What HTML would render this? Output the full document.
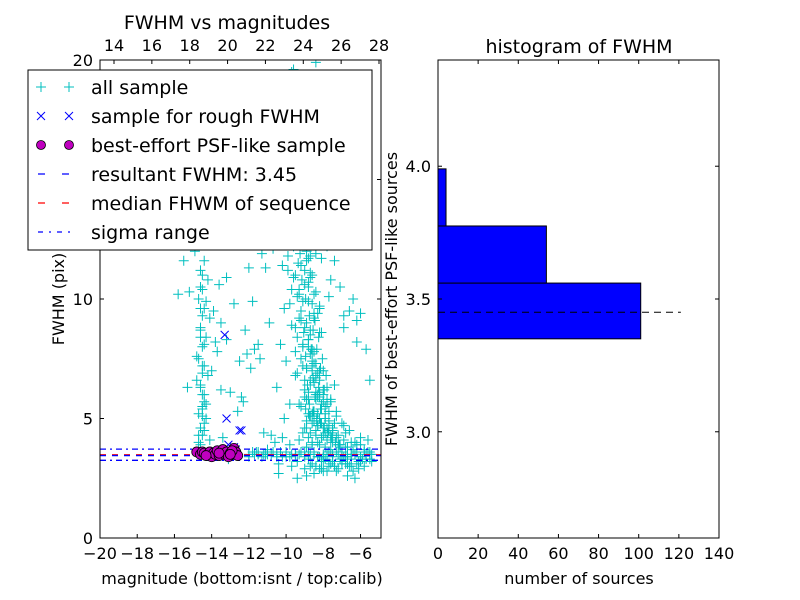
<!DOCTYPE html>
<html><head><meta charset="utf-8">
<style>
body{margin:0;background:#fff;}
svg{display:block;font-family:"DejaVu Sans","Liberation Sans",sans-serif;}
</style></head>
<body>
<svg id="c" width="800" height="600" viewBox="0 0 800 600" xmlns="http://www.w3.org/2000/svg"></svg>
<script>
// ---- data ----
const allMag = [
-14.6,-14.5,-14.4,-14.7,-14.3,-14.5,-14.6,-14.2,-14.4,-14.8,-14.5,-14.3,-14.6,-14.1,-14.4,-14.7,-14.5,-14.2,-14.6,-14.4,-14.3,-14.5,-14.8,-14.0,-13.8,-13.9,-13.6,-14.1,-13.5,-13.7,-14.9,-15.2,-15.5,-13.2,-12.8,-12.5,-13.0,-12.2,-11.8,-12.6,-13.4,-12.0,-11.5,-11.2,-11.7,-12.3,-10.9,-11.0,-11.3,-13.1,
-10.5,-10.3,-10.1,-10.0,-9.9,-9.8,-9.7,-9.6,-9.5,-9.4,-9.3,-9.2,-9.1,-9.0,-8.9,-8.8,-8.7,-8.6,-8.5,-8.4,-8.3,-8.2,-8.1,-8.0,-7.9,-7.8,-7.7,-7.6,-7.5,-7.3,
-9.8,-9.6,-9.4,-9.2,-9.0,-8.8,-8.6,-8.4,-8.2,-8.0,-9.7,-9.5,-9.3,-9.1,-8.9,-8.7,-8.5,-8.3,-8.1,-7.9,-9.9,-9.6,-9.2,-8.8,-8.5,-8.2,-7.8,-7.5,-7.2,-7.0,
-9.5,-9.3,-9.0,-8.8,-8.6,-8.4,-8.9,-8.7,-8.5,-8.3,-9.1,-8.8,-8.6,-8.4,-8.2,-8.0,-7.8,-7.6,-7.4,-7.1,-6.8,-6.5,-6.2,-6.0,-5.8,-5.6,-7.3,-6.9,-6.6,-6.3,
-10.8,-10.6,-10.2,-9.8,-9.3,-8.9,-8.6,-8.3,-7.9,-7.6,-7.2,-6.8,-6.4,-6.0,-5.6,-10.4,-9.7,-9.0,-8.1,-7.4,-6.7,-6.1,-5.5,-9.4,-8.7,-8.0,-7.0,-6.5,-5.9,-5.4,
-11.5,-11.0,-10.5,-10.0,-9.5,-9.0,-8.5,-8.0,-7.5,-7.0,-6.5,-6.0,-5.5,-11.8,-11.3,-10.8,-10.3,-9.8,-9.3,-8.8,-8.3,-7.8,-7.3,-6.8,-6.3,-5.8,-5.4,-12.0,-11.6,-11.1,
-10.2,-9.6,-9.1,-8.6,-8.1,-7.7,-10.0,-9.4,-8.9,-8.4,-7.8,-7.1,-10.6,-9.9,-9.2,-8.7,-8.2,-7.6,-6.9,-6.2,-11.2,-10.7,-9.5,-8.5,-7.4,-6.6,-5.7,-9.7,-9.0,-8.3,
-15.8,-15.3,-14.9,-13.2,-12.4,-11.9,-10.7,-9.8,-9.1,-8.4,-7.7,-6.9,-6.2,-5.5,-11.4,-10.1,-12.9,-8.6,-7.2,-6.0,-14.2,-12.1,-10.4,-9.4,-8.0,-6.4,-13.5,-11.1,-9.7,-7.9,
-12.0,-11.5,-11.0,-10.5,-10.0,-9.5,-9.0,-8.5,-8.0,-7.5,-7.0,-6.5,-6.0,-5.5,-11.7,-11.2,-10.7,-10.2,-9.7,-9.2,-8.7,-8.2,-7.7,-7.2,-6.7,-6.2,-5.7,-8.9,-9.4,-10.4,
-9.2,-9.0,-8.9,-8.8,-8.7,-8.6,-8.5,-8.4,-8.3,-8.1,-9.1,-8.95,-8.85,-8.75,-8.65,-8.55,-8.45,-8.35,-8.25,-8.15,-9.3,-9.05,-8.8,-8.6,-8.4,-8.2,-8.0,-7.9,-7.7,-7.5,
-9.4,-9.2,-9.0,-8.8,-8.7,-8.6,-8.5,-8.3,-8.1,-7.9,-9.5,-9.3,-9.1,-8.9,-8.7,-8.5,-8.4,-8.2,-8.0,-7.8,-9.6,-9.35,-9.15,-8.95,-8.75,-8.55,-8.35,-8.15,-7.95,-7.7,
-9.7,-9.5,-9.25,-9.0,-8.8,-8.6,-8.45,-8.25,-8.05,-7.85,-9.8,-9.55,-9.3,-9.1,-8.9,-8.7,-8.5,-8.3,-8.1,-7.6,-9.9,-9.6,-9.4,-9.2,-9.0,-8.8,-8.6,-8.4,-8.2,-7.4,
-9.0,-8.9,-8.8,-8.7,-8.6,-8.5,-8.4,-8.3,-8.2,-8.1,-8.0,-7.9,-7.8,-7.7,-7.6,-7.5,-7.3,-7.1,-6.9,-6.7,-8.95,-8.75,-8.55,-8.35,-8.15,-7.95,-7.75,-7.55,-7.35,-7.15,
-8.8,-8.6,-8.4,-8.2,-8.0,-7.8,-7.6,-7.4,-7.2,-7.0,-6.8,-6.6,-6.4,-6.2,-6.0,-5.8,-8.5,-8.1,-7.7,-7.3,-6.9,-6.5,-6.1,-5.7,-8.3,-7.9,-7.5,-7.1,-6.7,-6.3,
-9.6,-9.4,-9.8,-9.5,-9.3,-9.7,-9.4,-9.6,-9.2,-9.5,-10.0,-9.9,-9.3,-9.1,-8.9,-10.2,-9.0,-8.7,-9.6,-9.4,
-14.7,-14.6,-14.5,-14.4,-14.6,-14.5,-14.7,-14.4,-14.6,-14.5,-14.3,-14.6,-14.5,-14.4,-14.7,-14.5,-14.6,-14.4,-14.5,-14.6
];
const allFwhm = [
3.9,4.3,4.8,5.2,5.6,6.0,6.4,6.8,7.2,7.6,8.0,8.4,8.8,9.2,9.6,10.0,10.4,10.8,11.2,4.5,5.0,5.5,6.6,7.0,8.2,9.5,10.6,4.1,6.2,7.8,12.0,10.3,11.6,10.9,9.8,7.4,6.1,8.7,9.9,5.3,4.2,11.3,8.1,4.4,7.9,5.7,9.0,3.7,11.9,3.3,
6.3,8.1,9.6,7.4,11.2,5.6,10.4,12.5,8.8,6.9,13.8,9.1,7.2,10.6,5.8,8.3,6.4,7.7,9.4,6.1,5.2,8.6,4.8,7.0,5.5,6.3,4.9,5.7,4.4,5.1,
9.8,10.9,8.4,7.5,6.6,9.9,7.9,6.7,5.9,6.2,8.9,7.8,10.2,8.0,7.1,8.7,7.3,6.0,5.4,5.0,11.8,12.8,11.4,10.7,9.2,7.0,5.8,4.6,4.3,4.8,
6.8,5.6,5.9,6.1,5.2,5.8,4.6,5.1,4.9,4.7,4.4,4.2,4.0,4.5,3.9,4.3,4.6,4.1,4.8,3.8,4.4,4.0,3.9,4.2,3.7,4.1,5.3,4.7,4.5,4.0,
4.3,4.0,4.2,3.9,4.1,3.8,3.9,4.0,3.8,3.7,3.9,3.8,3.7,3.9,3.6,3.1,3.0,2.9,3.2,3.0,3.1,2.9,3.3,3.2,3.0,2.8,3.1,3.0,3.3,3.2,
3.5,3.6,3.5,3.4,3.5,3.6,3.5,3.4,3.5,3.6,3.5,3.4,3.5,3.6,3.4,3.5,3.6,3.4,3.5,3.6,3.4,3.5,3.6,3.4,3.5,3.6,3.5,3.4,3.6,3.5,
14.2,13.5,12.9,15.1,11.7,10.1,16.3,14.8,13.1,11.9,12.2,10.5,15.7,13.9,12.6,11.1,9.7,10.8,9.3,8.2,13.3,12.1,17.2,14.5,11.6,9.5,7.9,16.8,15.6,18.4,
10.2,6.3,12.3,8.3,5.9,7.1,12.8,19.2,17.6,19.9,18.9,8.8,9.1,6.6,7.5,5.0,13.4,15.4,16.1,9.4,12.6,7.7,15.2,14.0,14.3,10.0,9.0,11.3,19.5,16.0,
3.5,3.6,3.5,3.4,3.6,3.5,3.4,3.6,3.5,3.4,3.6,3.5,3.4,3.6,3.5,3.5,3.6,3.4,3.5,3.6,3.5,3.4,3.6,3.5,3.4,3.6,3.5,2.6,2.5,2.7,
5.5,6.2,7.1,5.8,6.6,7.4,5.3,6.0,6.9,5.6,8.1,7.6,6.4,5.1,7.9,6.7,5.9,4.9,6.3,5.4,9.2,8.6,8.0,7.2,6.8,6.1,5.7,5.0,4.7,4.5,
10.1,9.5,8.8,8.3,7.7,7.0,6.5,5.9,5.4,5.2,11.0,10.4,9.9,9.0,8.5,7.8,7.3,6.6,6.0,5.6,12.2,11.5,10.8,10.0,9.3,8.7,7.9,7.1,6.2,5.3,
13.0,12.6,11.9,11.2,10.5,9.8,9.1,8.4,7.5,6.8,14.0,13.4,12.9,12.3,11.6,10.9,10.2,9.4,8.6,5.8,15.1,14.4,13.7,13.1,12.4,11.7,11.0,10.3,9.6,6.4,
4.6,4.9,5.2,4.4,4.8,5.1,4.3,4.7,5.0,4.2,4.6,4.4,4.1,4.5,4.3,4.0,4.2,3.9,4.1,3.8,5.4,5.6,5.3,5.0,4.8,4.6,4.4,4.2,4.0,3.9,
3.3,3.1,3.0,2.9,3.2,2.8,3.1,3.0,2.9,3.2,3.1,3.0,2.8,3.1,3.2,3.0,2.7,2.9,3.0,2.8,3.4,3.3,3.2,3.3,3.4,3.3,3.2,3.3,2.6,2.5,
16.5,17.4,18.2,19.1,15.8,14.6,16.9,18.7,13.8,15.3,13.2,12.7,14.9,13.6,12.0,11.4,16.1,11.8,19.6,17.9,
4.0,4.6,5.1,5.7,6.3,6.9,7.5,8.1,8.7,9.3,9.9,10.5,11.0,11.6,4.3,7.2,8.4,6.0,5.4,9.6
];
const roughMag = [-13.3,-13.2,-12.4,-12.5,-13.1,-12.8,-13.5,-12.7];
const roughFwhm = [8.5,5.0,4.5,4.5,3.9,3.8,3.7,3.7];
const bestMag = [-14.8,-14.6,-14.5,-14.4,-14.2,-14.1,-14.0,-13.9,-13.8,-13.7,-13.6,-13.5,-13.4,-13.3,-13.2,-13.1,-13.0,-12.9,-12.8,-12.7,-12.6,-12.9,-13.6,-14.3,-13.0];
const bestFwhm = [3.6,3.5,3.6,3.55,3.5,3.6,3.4,3.55,3.5,3.65,3.45,3.6,3.7,3.5,3.6,3.4,3.55,3.5,3.75,3.6,3.45,3.65,3.55,3.45,3.5];
const resultFwhm = 3.45;
const medianFwhm = 3.48;
const sigmaLow = 3.25;
const sigmaHigh = 3.72;
const histEdges = [3.35, 3.56, 3.775, 3.99];
const histCounts = [101, 54, 4];
const xTicksBottom = [-20,-18,-16,-14,-12,-10,-8,-6];
const xTicksTop = [14,16,18,20,22,24,26,28];
const yTicksLeft = [0,5,10,15,20];
const xTicksHist = [0,20,40,60,80,100,120,140];
const yTicksHist = [3.0,3.5,4.0];

// ---- axes ----
const L={x0:100,x1:381,y0:60,y1:538};
const R={x0:438,x1:719,y0:60,y1:538};
const sx=m=>L.x0+(m+20)/(15.1)*(L.x1-L.x0);
const stop=v=>114+(v-14)*(379-114)/14;
const sy=v=>L.y1-v/20*(L.y1-L.y0);
const hx=v=>R.x0+v/140*(R.x1-R.x0);
const hy=v=>R.y1-(v-2.6)/1.8*(R.y1-R.y0);

const svg=document.getElementById('c');
const NS='http://www.w3.org/2000/svg';
function mk(tag,attrs,parent){const e=document.createElementNS(NS,tag);for(const k in attrs)e.setAttribute(k,attrs[k]);(parent||svg).appendChild(e);return e;}
function txt(s,x,y,size,anchor,parent,extra){const t=mk('text',Object.assign({x:x,y:y,'font-size':size,'text-anchor':anchor||'middle',fill:'#000'},extra||{}),parent);t.textContent=s;return t;}

const defs=mk('defs',{});
const cp=mk('clipPath',{id:'clipL'},defs);
mk('rect',{x:L.x0,y:L.y0,width:L.x1-L.x0,height:L.y1-L.y0},cp);

const gL=mk('g',{'clip-path':'url(#clipL)'});


const gAll=mk('g',{stroke:'#00bfbf','stroke-width':1},gL);


for(let i=0;i<allMag.length;i++){
  const x=sx(allMag[i]),y=sy(allFwhm[i]);
  const p=mk('path',{d:`M${x-5},${y}H${x+5}M${x},${y-5}V${y+5}`},gAll);
  
  
}
function hline(v,color,dash,name){
  const l=mk('line',{x1:L.x0,x2:L.x1,y1:sy(v),y2:sy(v),stroke:color,'stroke-width':1.3,'stroke-dasharray':dash},gL);
  
  
}
hline(sigmaLow,'#0000ff','6 4 2 4','sigma-low-line');
hline(sigmaHigh,'#0000ff','6 4 2 4','sigma-high-line');
hline(medianFwhm,'#ff0000','6 6','median-fwhm-line');
hline(resultFwhm,'#0000ff','6 6','resultant-fwhm-line');
const gRough=mk('g',{stroke:'#0000ff','stroke-width':1},gL);


for(let i=0;i<roughMag.length;i++){
  const x=sx(roughMag[i]),y=sy(roughFwhm[i]);
  const p=mk('path',{d:`M${x-4},${y-4}L${x+4},${y+4}M${x-4},${y+4}L${x+4},${y-4}`},gRough);
  
  
}
const gBest=mk('g',{fill:'#bf00bf',stroke:'#000','stroke-width':0.8},gL);


for(let i=0;i<bestMag.length;i++){
  const c=mk('circle',{cx:sx(bestMag[i]),cy:sy(bestFwhm[i]),r:5},gBest);
  
  
}
const fl=mk('rect',{x:L.x0,y:L.y0,width:L.x1-L.x0,height:L.y1-L.y0,fill:'none',stroke:'#000','stroke-width':1});


const gxt=mk('g',{});


xTicksBottom.forEach(v=>{const x=sx(v);mk('line',{x1:x,x2:x,y1:L.y1,y2:L.y1-4,stroke:'#000'},gxt);txt(String(v).replace('-','\u2212'),x,L.y1+21,16,'middle',gxt);});
const gtt=mk('g',{});


xTicksTop.forEach(v=>{const x=stop(v);mk('line',{x1:x,x2:x,y1:L.y0,y2:L.y0+4,stroke:'#000'},gtt);txt(String(v),x,L.y0-9,16,'middle',gtt);});
const gyt=mk('g',{});


yTicksLeft.forEach(v=>{const y=sy(v);mk('line',{x1:L.x0,x2:L.x0+4,y1:y,y2:y,stroke:'#000'},gyt);mk('line',{x1:L.x1,x2:L.x1-4,y1:y,y2:y,stroke:'#000'},gyt);txt(String(v),L.x0-7,y+6,16,'end',gyt);});
txt('FWHM vs magnitudes',227,29,19,'middle');
txt('magnitude (bottom:isnt / top:calib)',242,584,16,'middle');
txt('FWHM (pix)',0,0,16,'middle',null,{transform:'translate(64,299) rotate(-90)'});

const lg=mk('g',{});


mk('rect',{x:28,y:70,width:344,height:180,fill:'#fff',stroke:'#000','stroke-width':1},lg);
const entries=['all sample','sample for rough FWHM','best-effort PSF-like sample','resultant FWHM: 3.45','median FHWM of sequence','sigma range'];
entries.forEach((s,i)=>{
  const y=87+i*29;
  const e=mk('g',{},lg);
  
  
  if(i==0){[41,69].forEach(x=>mk('path',{d:`M${x-5},${y}H${x+5}M${x},${y-5}V${y+5}`,stroke:'#00bfbf'},e));}
  if(i==1){[41,69].forEach(x=>mk('path',{d:`M${x-4},${y-4}L${x+4},${y+4}M${x-4},${y+4}L${x+4},${y-4}`,stroke:'#0000ff'},e));}
  if(i==2){[41,69].forEach(x=>mk('circle',{cx:x,cy:y,r:4.5,fill:'#bf00bf',stroke:'#000','stroke-width':0.8},e));}
  if(i==3)mk('line',{x1:38,x2:74,y1:y,y2:y,stroke:'#0000ff','stroke-width':1.3,'stroke-dasharray':'7 17'},e);
  if(i==4)mk('line',{x1:38,x2:74,y1:y,y2:y,stroke:'#ff0000','stroke-width':1.3,'stroke-dasharray':'7 17'},e);
  if(i==5)mk('line',{x1:38,x2:74,y1:y,y2:y,stroke:'#0000ff','stroke-width':1.3,'stroke-dasharray':'5 6 2 6'},e);
  txt(s,91,y+7,19,'start',e);
});

const gH=mk('g',{});


for(let i=0;i<histCounts.length;i++){
  const yt=hy(histEdges[i+1]),yb=hy(histEdges[i]);
  const b=mk('rect',{x:R.x0,y:yt,width:hx(histCounts[i])-R.x0,height:yb-yt,fill:'#0000ff',stroke:'#000','stroke-width':1},gH);
  
  
}
const dl=mk('line',{x1:R.x0,x2:hx(121),y1:hy(resultFwhm),y2:hy(resultFwhm),stroke:'#000','stroke-dasharray':'7 5'});


const fr=mk('rect',{x:R.x0,y:R.y0,width:R.x1-R.x0,height:R.y1-R.y0,fill:'none',stroke:'#000'});


const ghx=mk('g',{});


xTicksHist.forEach(v=>{const x=hx(v);mk('line',{x1:x,x2:x,y1:R.y1,y2:R.y1-4,stroke:'#000'},ghx);mk('line',{x1:x,x2:x,y1:R.y0,y2:R.y0+4,stroke:'#000'},ghx);txt(String(v),x,R.y1+21,16,'middle',ghx);});
const ghy=mk('g',{});


yTicksHist.forEach(v=>{const y=hy(v);mk('line',{x1:R.x0,x2:R.x0+4,y1:y,y2:y,stroke:'#000'},ghy);mk('line',{x1:R.x1,x2:R.x1-4,y1:y,y2:y,stroke:'#000'},ghy);txt(v.toFixed(1),R.x0-7,y+6,16,'end',ghy);});
txt('histogram of FWHM',579,53,19,'middle');
txt('number of sources',579,584,16,'middle');
txt('FWHM of best-effort PSF-like sources',0,0,16,'middle',null,{transform:'translate(397,299) rotate(-90)'});
</script>
</body></html>
